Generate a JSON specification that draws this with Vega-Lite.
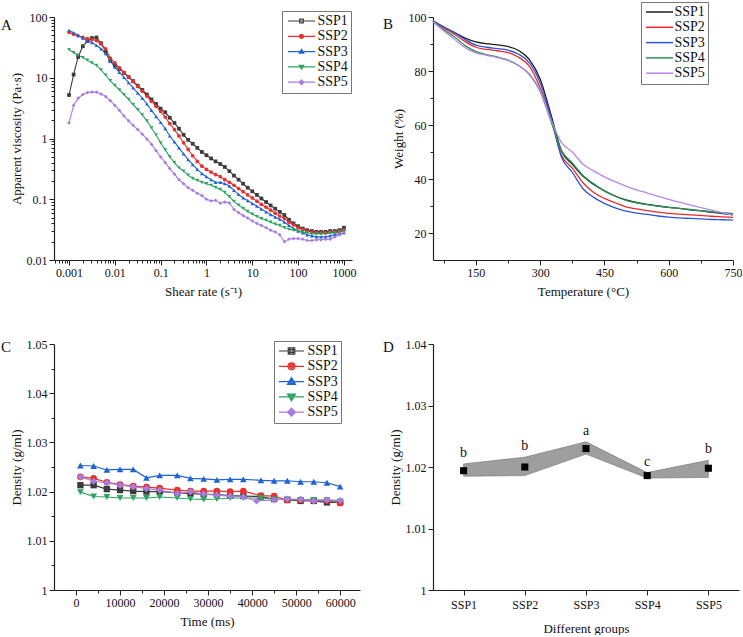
{
"$schema":"https://vega.github.io/schema/vega-lite/v6.json",
"background":"white",
"padding":{"left":1,"top":1,"right":0,"bottom":0},
"columns":2,
"spacing":{"row":84,"column":73},
"bounds":"flush",
"resolve":{"scale":{"color":"independent","shape":"independent"},"legend":{"color":"independent","shape":"independent"}},
"config":{
 "font":"Liberation Serif",
 "view":{"stroke":null},
 "axis":{"domainColor":"#222","domainWidth":1.2,"tickColor":"#222","tickWidth":1,"labelColor":"#111","labelFontSize":12,"titleFontSize":13,"titleFontWeight":"normal","titleColor":"#111","grid":false,"labelFont":"Liberation Serif","titleFont":"Liberation Serif","labelPadding":2},
 "legend":{"labelFont":"Liberation Serif","labelColor":"#111"},
 "title":{"font":"Liberation Serif","fontSize":15,"fontWeight":"normal","anchor":"start","frame":"group","color":"#111","offset":0}
},
"datasets":{
"visc":[
{"s":"SSP1","x":0.001,"y":5.2},{"s":"SSP1","x":0.00126,"y":11.3},{"s":"SSP1","x":0.00158,"y":22},{"s":"SSP1","x":0.002,"y":33},{"s":"SSP1","x":0.00251,"y":40},{"s":"SSP1","x":0.00316,"y":45},{"s":"SSP1","x":0.00398,"y":46},{"s":"SSP1","x":0.00501,"y":37},{"s":"SSP1","x":0.00631,"y":27},{"s":"SSP1","x":0.00794,"y":19},
{"s":"SSP1","x":0.01,"y":16},{"s":"SSP1","x":0.0126,"y":14},{"s":"SSP1","x":0.0158,"y":12},{"s":"SSP1","x":0.02,"y":10.3},{"s":"SSP1","x":0.0251,"y":8.8},{"s":"SSP1","x":0.0316,"y":7.4},{"s":"SSP1","x":0.0398,"y":6.3},{"s":"SSP1","x":0.0501,"y":5.3},{"s":"SSP1","x":0.0631,"y":4.4},{"s":"SSP1","x":0.0794,"y":3.7},
{"s":"SSP1","x":0.1,"y":3.1},{"s":"SSP1","x":0.126,"y":2.7},{"s":"SSP1","x":0.158,"y":2.2},{"s":"SSP1","x":0.2,"y":1.8},{"s":"SSP1","x":0.251,"y":1.45},{"s":"SSP1","x":0.316,"y":1.15},{"s":"SSP1","x":0.398,"y":0.95},{"s":"SSP1","x":0.501,"y":0.82},{"s":"SSP1","x":0.631,"y":0.7},{"s":"SSP1","x":0.794,"y":0.6},
{"s":"SSP1","x":1,"y":0.53},{"s":"SSP1","x":1.26,"y":0.47},{"s":"SSP1","x":1.58,"y":0.42},{"s":"SSP1","x":2,"y":0.38},{"s":"SSP1","x":2.51,"y":0.34},{"s":"SSP1","x":3.16,"y":0.29},{"s":"SSP1","x":3.98,"y":0.245},{"s":"SSP1","x":5.01,"y":0.21},{"s":"SSP1","x":6.31,"y":0.18},{"s":"SSP1","x":7.94,"y":0.155},
{"s":"SSP1","x":10,"y":0.135},{"s":"SSP1","x":12.6,"y":0.118},{"s":"SSP1","x":15.8,"y":0.103},{"s":"SSP1","x":20,"y":0.09},{"s":"SSP1","x":25.1,"y":0.079},{"s":"SSP1","x":31.6,"y":0.07},{"s":"SSP1","x":39.8,"y":0.062},{"s":"SSP1","x":50.1,"y":0.055},{"s":"SSP1","x":63.1,"y":0.046},{"s":"SSP1","x":79.4,"y":0.04},
{"s":"SSP1","x":100,"y":0.036},{"s":"SSP1","x":126,"y":0.033},{"s":"SSP1","x":158,"y":0.031},{"s":"SSP1","x":200,"y":0.03},{"s":"SSP1","x":251,"y":0.029},{"s":"SSP1","x":316,"y":0.029},{"s":"SSP1","x":398,"y":0.029},{"s":"SSP1","x":501,"y":0.03},{"s":"SSP1","x":631,"y":0.03},{"s":"SSP1","x":794,"y":0.031},{"s":"SSP1","x":1000,"y":0.034},
{"s":"SSP2","x":0.001,"y":56},{"s":"SSP2","x":0.00126,"y":52},{"s":"SSP2","x":0.00158,"y":49},{"s":"SSP2","x":0.002,"y":46},{"s":"SSP2","x":0.00251,"y":44},{"s":"SSP2","x":0.00316,"y":42.5},{"s":"SSP2","x":0.00398,"y":41},{"s":"SSP2","x":0.00501,"y":36},{"s":"SSP2","x":0.00631,"y":30},{"s":"SSP2","x":0.00794,"y":21},
{"s":"SSP2","x":0.01,"y":17.5},{"s":"SSP2","x":0.0126,"y":14.5},{"s":"SSP2","x":0.0158,"y":12.3},{"s":"SSP2","x":0.02,"y":10.3},{"s":"SSP2","x":0.0251,"y":8.6},{"s":"SSP2","x":0.0316,"y":7.2},{"s":"SSP2","x":0.0398,"y":6},{"s":"SSP2","x":0.0501,"y":5},{"s":"SSP2","x":0.0631,"y":4.1},{"s":"SSP2","x":0.0794,"y":3.4},
{"s":"SSP2","x":0.1,"y":2.8},{"s":"SSP2","x":0.126,"y":2.25},{"s":"SSP2","x":0.158,"y":1.75},{"s":"SSP2","x":0.2,"y":1.4},{"s":"SSP2","x":0.251,"y":1.1},{"s":"SSP2","x":0.316,"y":0.85},{"s":"SSP2","x":0.398,"y":0.66},{"s":"SSP2","x":0.501,"y":0.52},{"s":"SSP2","x":0.631,"y":0.42},{"s":"SSP2","x":0.794,"y":0.35},
{"s":"SSP2","x":1,"y":0.31},{"s":"SSP2","x":1.26,"y":0.28},{"s":"SSP2","x":1.58,"y":0.255},{"s":"SSP2","x":2,"y":0.235},{"s":"SSP2","x":2.51,"y":0.21},{"s":"SSP2","x":3.16,"y":0.19},{"s":"SSP2","x":3.98,"y":0.17},{"s":"SSP2","x":5.01,"y":0.15},{"s":"SSP2","x":6.31,"y":0.133},{"s":"SSP2","x":7.94,"y":0.118},
{"s":"SSP2","x":10,"y":0.105},{"s":"SSP2","x":12.6,"y":0.093},{"s":"SSP2","x":15.8,"y":0.082},{"s":"SSP2","x":20,"y":0.074},{"s":"SSP2","x":25.1,"y":0.066},{"s":"SSP2","x":31.6,"y":0.059},{"s":"SSP2","x":39.8,"y":0.053},{"s":"SSP2","x":50.1,"y":0.048},{"s":"SSP2","x":63.1,"y":0.042},{"s":"SSP2","x":79.4,"y":0.038},
{"s":"SSP2","x":100,"y":0.034},{"s":"SSP2","x":126,"y":0.032},{"s":"SSP2","x":158,"y":0.03},{"s":"SSP2","x":200,"y":0.029},{"s":"SSP2","x":251,"y":0.028},{"s":"SSP2","x":316,"y":0.028},{"s":"SSP2","x":398,"y":0.028},{"s":"SSP2","x":501,"y":0.029},{"s":"SSP2","x":631,"y":0.029},{"s":"SSP2","x":794,"y":0.03},{"s":"SSP2","x":1000,"y":0.031},
{"s":"SSP3","x":0.001,"y":60},{"s":"SSP3","x":0.00126,"y":55},{"s":"SSP3","x":0.00158,"y":50},{"s":"SSP3","x":0.002,"y":45},{"s":"SSP3","x":0.00251,"y":41},{"s":"SSP3","x":0.00316,"y":38},{"s":"SSP3","x":0.00398,"y":34},{"s":"SSP3","x":0.00501,"y":30},{"s":"SSP3","x":0.00631,"y":25},{"s":"SSP3","x":0.00794,"y":19},
{"s":"SSP3","x":0.01,"y":15},{"s":"SSP3","x":0.0126,"y":12.3},{"s":"SSP3","x":0.0158,"y":10.1},{"s":"SSP3","x":0.02,"y":8.3},{"s":"SSP3","x":0.0251,"y":6.8},{"s":"SSP3","x":0.0316,"y":5.6},{"s":"SSP3","x":0.0398,"y":4.6},{"s":"SSP3","x":0.0501,"y":3.7},{"s":"SSP3","x":0.0631,"y":2.9},{"s":"SSP3","x":0.0794,"y":2.3},
{"s":"SSP3","x":0.1,"y":1.85},{"s":"SSP3","x":0.126,"y":1.45},{"s":"SSP3","x":0.158,"y":1.1},{"s":"SSP3","x":0.2,"y":0.88},{"s":"SSP3","x":0.251,"y":0.7},{"s":"SSP3","x":0.316,"y":0.56},{"s":"SSP3","x":0.398,"y":0.45},{"s":"SSP3","x":0.501,"y":0.37},{"s":"SSP3","x":0.631,"y":0.31},{"s":"SSP3","x":0.794,"y":0.265},
{"s":"SSP3","x":1,"y":0.235},{"s":"SSP3","x":1.26,"y":0.21},{"s":"SSP3","x":1.58,"y":0.19},{"s":"SSP3","x":2,"y":0.19},{"s":"SSP3","x":2.51,"y":0.18},{"s":"SSP3","x":3.16,"y":0.165},{"s":"SSP3","x":3.98,"y":0.14},{"s":"SSP3","x":5.01,"y":0.12},{"s":"SSP3","x":6.31,"y":0.105},{"s":"SSP3","x":7.94,"y":0.095},
{"s":"SSP3","x":10,"y":0.085},{"s":"SSP3","x":12.6,"y":0.077},{"s":"SSP3","x":15.8,"y":0.069},{"s":"SSP3","x":20,"y":0.062},{"s":"SSP3","x":25.1,"y":0.056},{"s":"SSP3","x":31.6,"y":0.051},{"s":"SSP3","x":39.8,"y":0.047},{"s":"SSP3","x":50.1,"y":0.042},{"s":"SSP3","x":63.1,"y":0.037},{"s":"SSP3","x":79.4,"y":0.033},
{"s":"SSP3","x":100,"y":0.03},{"s":"SSP3","x":126,"y":0.028},{"s":"SSP3","x":158,"y":0.026},{"s":"SSP3","x":200,"y":0.025},{"s":"SSP3","x":251,"y":0.024},{"s":"SSP3","x":316,"y":0.024},{"s":"SSP3","x":398,"y":0.024},{"s":"SSP3","x":501,"y":0.025},{"s":"SSP3","x":631,"y":0.026},{"s":"SSP3","x":794,"y":0.027},{"s":"SSP3","x":1000,"y":0.028},
{"s":"SSP4","x":0.001,"y":29},{"s":"SSP4","x":0.00126,"y":26},{"s":"SSP4","x":0.00158,"y":23.5},{"s":"SSP4","x":0.002,"y":21.5},{"s":"SSP4","x":0.00251,"y":19.5},{"s":"SSP4","x":0.00316,"y":17.5},{"s":"SSP4","x":0.00398,"y":16},{"s":"SSP4","x":0.00501,"y":13.5},{"s":"SSP4","x":0.00631,"y":11},{"s":"SSP4","x":0.00794,"y":9},
{"s":"SSP4","x":0.01,"y":7.5},{"s":"SSP4","x":0.0126,"y":6.3},{"s":"SSP4","x":0.0158,"y":5.3},{"s":"SSP4","x":0.02,"y":4.4},{"s":"SSP4","x":0.0251,"y":3.6},{"s":"SSP4","x":0.0316,"y":3},{"s":"SSP4","x":0.0398,"y":2.45},{"s":"SSP4","x":0.0501,"y":1.95},{"s":"SSP4","x":0.0631,"y":1.5},{"s":"SSP4","x":0.0794,"y":1.15},
{"s":"SSP4","x":0.1,"y":0.85},{"s":"SSP4","x":0.126,"y":0.65},{"s":"SSP4","x":0.158,"y":0.5},{"s":"SSP4","x":0.2,"y":0.4},{"s":"SSP4","x":0.251,"y":0.33},{"s":"SSP4","x":0.316,"y":0.29},{"s":"SSP4","x":0.398,"y":0.25},{"s":"SSP4","x":0.501,"y":0.22},{"s":"SSP4","x":0.631,"y":0.205},{"s":"SSP4","x":0.794,"y":0.19},
{"s":"SSP4","x":1,"y":0.18},{"s":"SSP4","x":1.26,"y":0.17},{"s":"SSP4","x":1.58,"y":0.157},{"s":"SSP4","x":2,"y":0.145},{"s":"SSP4","x":2.51,"y":0.13},{"s":"SSP4","x":3.16,"y":0.11},{"s":"SSP4","x":3.98,"y":0.092},{"s":"SSP4","x":5.01,"y":0.08},{"s":"SSP4","x":6.31,"y":0.071},{"s":"SSP4","x":7.94,"y":0.063},
{"s":"SSP4","x":10,"y":0.057},{"s":"SSP4","x":12.6,"y":0.052},{"s":"SSP4","x":15.8,"y":0.048},{"s":"SSP4","x":20,"y":0.045},{"s":"SSP4","x":25.1,"y":0.042},{"s":"SSP4","x":31.6,"y":0.039},{"s":"SSP4","x":39.8,"y":0.037},{"s":"SSP4","x":50.1,"y":0.034},{"s":"SSP4","x":63.1,"y":0.032},{"s":"SSP4","x":79.4,"y":0.031},
{"s":"SSP4","x":100,"y":0.03},{"s":"SSP4","x":126,"y":0.029},{"s":"SSP4","x":158,"y":0.028},{"s":"SSP4","x":200,"y":0.027},{"s":"SSP4","x":251,"y":0.027},{"s":"SSP4","x":316,"y":0.027},{"s":"SSP4","x":398,"y":0.027},{"s":"SSP4","x":501,"y":0.028},{"s":"SSP4","x":631,"y":0.028},{"s":"SSP4","x":794,"y":0.029},{"s":"SSP4","x":1000,"y":0.03},
{"s":"SSP5","x":0.001,"y":1.8},{"s":"SSP5","x":0.00126,"y":3.5},{"s":"SSP5","x":0.00158,"y":4.6},{"s":"SSP5","x":0.002,"y":5.3},{"s":"SSP5","x":0.00251,"y":5.7},{"s":"SSP5","x":0.00316,"y":5.8},{"s":"SSP5","x":0.00398,"y":5.8},{"s":"SSP5","x":0.00501,"y":5.4},{"s":"SSP5","x":0.00631,"y":4.9},{"s":"SSP5","x":0.00794,"y":4.2},
{"s":"SSP5","x":0.01,"y":3.5},{"s":"SSP5","x":0.0126,"y":2.9},{"s":"SSP5","x":0.0158,"y":2.35},{"s":"SSP5","x":0.02,"y":1.95},{"s":"SSP5","x":0.0251,"y":1.65},{"s":"SSP5","x":0.0316,"y":1.4},{"s":"SSP5","x":0.0398,"y":1.18},{"s":"SSP5","x":0.0501,"y":0.98},{"s":"SSP5","x":0.0631,"y":0.8},{"s":"SSP5","x":0.0794,"y":0.63},
{"s":"SSP5","x":0.1,"y":0.5},{"s":"SSP5","x":0.126,"y":0.4},{"s":"SSP5","x":0.158,"y":0.32},{"s":"SSP5","x":0.2,"y":0.26},{"s":"SSP5","x":0.251,"y":0.21},{"s":"SSP5","x":0.316,"y":0.18},{"s":"SSP5","x":0.398,"y":0.155},{"s":"SSP5","x":0.501,"y":0.14},{"s":"SSP5","x":0.631,"y":0.125},{"s":"SSP5","x":0.794,"y":0.115},
{"s":"SSP5","x":1,"y":0.1},{"s":"SSP5","x":1.26,"y":0.094},{"s":"SSP5","x":1.58,"y":0.096},{"s":"SSP5","x":2,"y":0.086},{"s":"SSP5","x":2.51,"y":0.09},{"s":"SSP5","x":3.16,"y":0.087},{"s":"SSP5","x":3.98,"y":0.068},{"s":"SSP5","x":5.01,"y":0.06},{"s":"SSP5","x":6.31,"y":0.054},{"s":"SSP5","x":7.94,"y":0.049},
{"s":"SSP5","x":10,"y":0.044},{"s":"SSP5","x":12.6,"y":0.04},{"s":"SSP5","x":15.8,"y":0.037},{"s":"SSP5","x":20,"y":0.034},{"s":"SSP5","x":25.1,"y":0.031},{"s":"SSP5","x":31.6,"y":0.029},{"s":"SSP5","x":39.8,"y":0.026},{"s":"SSP5","x":50.1,"y":0.02},{"s":"SSP5","x":63.1,"y":0.022},{"s":"SSP5","x":79.4,"y":0.0225},
{"s":"SSP5","x":100,"y":0.0225},{"s":"SSP5","x":126,"y":0.022},{"s":"SSP5","x":158,"y":0.021},{"s":"SSP5","x":200,"y":0.021},{"s":"SSP5","x":251,"y":0.0215},{"s":"SSP5","x":316,"y":0.0215},{"s":"SSP5","x":398,"y":0.022},{"s":"SSP5","x":501,"y":0.022},{"s":"SSP5","x":631,"y":0.024},{"s":"SSP5","x":794,"y":0.026},{"s":"SSP5","x":1000,"y":0.028}
],
"tga":[
{"s":"SSP1","t":50,"w":98.5},{"s":"SSP1","t":75,"w":96.3},{"s":"SSP1","t":100,"w":94.2},{"s":"SSP1","t":125,"w":92.2},{"s":"SSP1","t":150,"w":90.8},{"s":"SSP1","t":175,"w":90.1},{"s":"SSP1","t":200,"w":89.7},{"s":"SSP1","t":225,"w":89.1},{"s":"SSP1","t":250,"w":87.6},{"s":"SSP1","t":275,"w":84.2},{"s":"SSP1","t":300,"w":77},{"s":"SSP1","t":325,"w":64},{"s":"SSP1","t":350,"w":50.3},{"s":"SSP1","t":375,"w":45.5},{"s":"SSP1","t":400,"w":41},{"s":"SSP1","t":425,"w":38},{"s":"SSP1","t":450,"w":35.6},{"s":"SSP1","t":475,"w":33.7},{"s":"SSP1","t":500,"w":32.3},{"s":"SSP1","t":525,"w":31.3},{"s":"SSP1","t":550,"w":30.6},{"s":"SSP1","t":575,"w":30},{"s":"SSP1","t":600,"w":29.5},{"s":"SSP1","t":625,"w":29.1},{"s":"SSP1","t":650,"w":28.6},{"s":"SSP1","t":675,"w":28.2},{"s":"SSP1","t":700,"w":27.7},{"s":"SSP1","t":725,"w":27.2},{"s":"SSP1","t":750,"w":26.8},
{"s":"SSP2","t":50,"w":98.4},{"s":"SSP2","t":75,"w":95.9},{"s":"SSP2","t":100,"w":93.6},{"s":"SSP2","t":125,"w":90.9},{"s":"SSP2","t":150,"w":88.8},{"s":"SSP2","t":175,"w":88},{"s":"SSP2","t":200,"w":87.5},{"s":"SSP2","t":225,"w":86.8},{"s":"SSP2","t":250,"w":85.1},{"s":"SSP2","t":275,"w":81.7},{"s":"SSP2","t":300,"w":73.8},{"s":"SSP2","t":325,"w":62.5},{"s":"SSP2","t":350,"w":48.8},{"s":"SSP2","t":375,"w":44},{"s":"SSP2","t":400,"w":38.6},{"s":"SSP2","t":425,"w":35},{"s":"SSP2","t":450,"w":32.8},{"s":"SSP2","t":475,"w":31.2},{"s":"SSP2","t":500,"w":29.7},{"s":"SSP2","t":525,"w":28.9},{"s":"SSP2","t":550,"w":28.3},{"s":"SSP2","t":575,"w":27.7},{"s":"SSP2","t":600,"w":27.3},{"s":"SSP2","t":625,"w":27},{"s":"SSP2","t":650,"w":26.7},{"s":"SSP2","t":675,"w":26.5},{"s":"SSP2","t":700,"w":26.2},{"s":"SSP2","t":725,"w":26},{"s":"SSP2","t":750,"w":25.8},
{"s":"SSP3","t":50,"w":98.6},{"s":"SSP3","t":75,"w":96.3},{"s":"SSP3","t":100,"w":94.2},{"s":"SSP3","t":125,"w":91.6},{"s":"SSP3","t":150,"w":89.6},{"s":"SSP3","t":175,"w":88.8},{"s":"SSP3","t":200,"w":88.3},{"s":"SSP3","t":225,"w":87.7},{"s":"SSP3","t":250,"w":86.2},{"s":"SSP3","t":275,"w":83},{"s":"SSP3","t":300,"w":75.6},{"s":"SSP3","t":325,"w":63},{"s":"SSP3","t":350,"w":48},{"s":"SSP3","t":375,"w":42.5},{"s":"SSP3","t":400,"w":36.4},{"s":"SSP3","t":425,"w":33.2},{"s":"SSP3","t":450,"w":31},{"s":"SSP3","t":475,"w":29.3},{"s":"SSP3","t":500,"w":28.1},{"s":"SSP3","t":525,"w":27.4},{"s":"SSP3","t":550,"w":26.9},{"s":"SSP3","t":575,"w":26.3},{"s":"SSP3","t":600,"w":25.9},{"s":"SSP3","t":625,"w":25.6},{"s":"SSP3","t":650,"w":25.4},{"s":"SSP3","t":675,"w":25.2},{"s":"SSP3","t":700,"w":25},{"s":"SSP3","t":725,"w":24.9},{"s":"SSP3","t":750,"w":24.8},
{"s":"SSP4","t":50,"w":98.3},{"s":"SSP4","t":75,"w":95.3},{"s":"SSP4","t":100,"w":92.7},{"s":"SSP4","t":125,"w":89.4},{"s":"SSP4","t":150,"w":87.2},{"s":"SSP4","t":175,"w":86.1},{"s":"SSP4","t":200,"w":85.2},{"s":"SSP4","t":225,"w":84},{"s":"SSP4","t":250,"w":82},{"s":"SSP4","t":275,"w":78.7},{"s":"SSP4","t":300,"w":72.5},{"s":"SSP4","t":325,"w":61.5},{"s":"SSP4","t":350,"w":50.5},{"s":"SSP4","t":375,"w":46},{"s":"SSP4","t":400,"w":41.3},{"s":"SSP4","t":425,"w":38.2},{"s":"SSP4","t":450,"w":35.6},{"s":"SSP4","t":475,"w":33.6},{"s":"SSP4","t":500,"w":32.1},{"s":"SSP4","t":525,"w":31.2},{"s":"SSP4","t":550,"w":30.5},{"s":"SSP4","t":575,"w":30},{"s":"SSP4","t":600,"w":29.5},{"s":"SSP4","t":625,"w":29.1},{"s":"SSP4","t":650,"w":28.7},{"s":"SSP4","t":675,"w":28.3},{"s":"SSP4","t":700,"w":27.9},{"s":"SSP4","t":725,"w":27.5},{"s":"SSP4","t":750,"w":27.2},
{"s":"SSP5","t":50,"w":98.2},{"s":"SSP5","t":75,"w":94.8},{"s":"SSP5","t":100,"w":91.8},{"s":"SSP5","t":125,"w":88.6},{"s":"SSP5","t":150,"w":86.7},{"s":"SSP5","t":175,"w":85.8},{"s":"SSP5","t":200,"w":85},{"s":"SSP5","t":225,"w":83.9},{"s":"SSP5","t":250,"w":82},{"s":"SSP5","t":275,"w":78.9},{"s":"SSP5","t":300,"w":72.8},{"s":"SSP5","t":325,"w":62},{"s":"SSP5","t":350,"w":53.5},{"s":"SSP5","t":375,"w":50},{"s":"SSP5","t":400,"w":45.5},{"s":"SSP5","t":425,"w":43},{"s":"SSP5","t":450,"w":40.8},{"s":"SSP5","t":475,"w":39},{"s":"SSP5","t":500,"w":37.4},{"s":"SSP5","t":525,"w":36},{"s":"SSP5","t":550,"w":34.8},{"s":"SSP5","t":575,"w":33.6},{"s":"SSP5","t":600,"w":32.5},{"s":"SSP5","t":625,"w":31.4},{"s":"SSP5","t":650,"w":30.4},{"s":"SSP5","t":675,"w":29.4},{"s":"SSP5","t":700,"w":28.5},{"s":"SSP5","t":725,"w":27.5},{"s":"SSP5","t":750,"w":26.6}
],
"dens":[
{"s":"SSP1","t":1000,"d":1.0213},{"s":"SSP1","t":4000,"d":1.0213},{"s":"SSP1","t":7000,"d":1.0205},{"s":"SSP1","t":10000,"d":1.0203},{"s":"SSP1","t":13000,"d":1.0201},{"s":"SSP1","t":16000,"d":1.02},{"s":"SSP1","t":19000,"d":1.02},{"s":"SSP1","t":23000,"d":1.0198},{"s":"SSP1","t":26000,"d":1.0196},{"s":"SSP1","t":29000,"d":1.0195},{"s":"SSP1","t":32000,"d":1.0194},{"s":"SSP1","t":35000,"d":1.0192},{"s":"SSP1","t":38000,"d":1.0191},{"s":"SSP1","t":42000,"d":1.019},{"s":"SSP1","t":45000,"d":1.0185},{"s":"SSP1","t":48000,"d":1.0183},{"s":"SSP1","t":51000,"d":1.0181},{"s":"SSP1","t":54000,"d":1.0181},{"s":"SSP1","t":57000,"d":1.0178},{"s":"SSP1","t":60000,"d":1.0178},
{"s":"SSP2","t":1000,"d":1.023},{"s":"SSP2","t":4000,"d":1.0227},{"s":"SSP2","t":7000,"d":1.0219},{"s":"SSP2","t":10000,"d":1.0214},{"s":"SSP2","t":13000,"d":1.0211},{"s":"SSP2","t":16000,"d":1.0209},{"s":"SSP2","t":19000,"d":1.0207},{"s":"SSP2","t":23000,"d":1.0203},{"s":"SSP2","t":26000,"d":1.0201},{"s":"SSP2","t":29000,"d":1.0201},{"s":"SSP2","t":32000,"d":1.0201},{"s":"SSP2","t":35000,"d":1.02},{"s":"SSP2","t":38000,"d":1.0201},{"s":"SSP2","t":42000,"d":1.0192},{"s":"SSP2","t":45000,"d":1.0191},{"s":"SSP2","t":48000,"d":1.0183},{"s":"SSP2","t":51000,"d":1.0183},{"s":"SSP2","t":54000,"d":1.0182},{"s":"SSP2","t":57000,"d":1.0182},{"s":"SSP2","t":60000,"d":1.0177},
{"s":"SSP3","t":1000,"d":1.0253},{"s":"SSP3","t":4000,"d":1.0252},{"s":"SSP3","t":7000,"d":1.0244},{"s":"SSP3","t":10000,"d":1.0245},{"s":"SSP3","t":13000,"d":1.0245},{"s":"SSP3","t":16000,"d":1.0228},{"s":"SSP3","t":19000,"d":1.0233},{"s":"SSP3","t":23000,"d":1.0233},{"s":"SSP3","t":26000,"d":1.0227},{"s":"SSP3","t":29000,"d":1.0226},{"s":"SSP3","t":32000,"d":1.0224},{"s":"SSP3","t":35000,"d":1.0225},{"s":"SSP3","t":38000,"d":1.0225},{"s":"SSP3","t":42000,"d":1.0223},{"s":"SSP3","t":45000,"d":1.0222},{"s":"SSP3","t":48000,"d":1.0222},{"s":"SSP3","t":51000,"d":1.022},{"s":"SSP3","t":54000,"d":1.022},{"s":"SSP3","t":57000,"d":1.0218},{"s":"SSP3","t":60000,"d":1.021},
{"s":"SSP4","t":1000,"d":1.0199},{"s":"SSP4","t":4000,"d":1.019},{"s":"SSP4","t":7000,"d":1.0189},{"s":"SSP4","t":10000,"d":1.0187},{"s":"SSP4","t":13000,"d":1.0187},{"s":"SSP4","t":16000,"d":1.0187},{"s":"SSP4","t":19000,"d":1.0189},{"s":"SSP4","t":23000,"d":1.0187},{"s":"SSP4","t":26000,"d":1.0185},{"s":"SSP4","t":29000,"d":1.0184},{"s":"SSP4","t":32000,"d":1.0185},{"s":"SSP4","t":35000,"d":1.0187},{"s":"SSP4","t":38000,"d":1.0187},{"s":"SSP4","t":42000,"d":1.0187},{"s":"SSP4","t":45000,"d":1.0184},{"s":"SSP4","t":48000,"d":1.0184},{"s":"SSP4","t":51000,"d":1.0183},{"s":"SSP4","t":54000,"d":1.0183},{"s":"SSP4","t":57000,"d":1.0182},{"s":"SSP4","t":60000,"d":1.018},
{"s":"SSP5","t":1000,"d":1.023},{"s":"SSP5","t":4000,"d":1.0221},{"s":"SSP5","t":7000,"d":1.0218},{"s":"SSP5","t":10000,"d":1.0213},{"s":"SSP5","t":13000,"d":1.021},{"s":"SSP5","t":16000,"d":1.0206},{"s":"SSP5","t":19000,"d":1.0203},{"s":"SSP5","t":23000,"d":1.0196},{"s":"SSP5","t":26000,"d":1.02},{"s":"SSP5","t":29000,"d":1.0195},{"s":"SSP5","t":32000,"d":1.0193},{"s":"SSP5","t":35000,"d":1.0191},{"s":"SSP5","t":38000,"d":1.0189},{"s":"SSP5","t":41000,"d":1.0181},{"s":"SSP5","t":45000,"d":1.0183},{"s":"SSP5","t":48000,"d":1.0185},{"s":"SSP5","t":51000,"d":1.0184},{"s":"SSP5","t":54000,"d":1.0181},{"s":"SSP5","t":57000,"d":1.0183},{"s":"SSP5","t":60000,"d":1.0182}
],
"grp":[
{"g":"SSP1","m":1.0194,"lo":1.0185,"hi":1.0205,"lab":"b"},
{"g":"SSP2","m":1.02,"lo":1.0186,"hi":1.0216,"lab":"b"},
{"g":"SSP3","m":1.023,"lo":1.0221,"hi":1.0241,"lab":"a"},
{"g":"SSP4","m":1.0186,"lo":1.0182,"hi":1.0191,"lab":"c"},
{"g":"SSP5","m":1.0198,"lo":1.0183,"hi":1.0211,"lab":"b"}
]
},
"concat":[
{
 "width":298,"height":243,
 "title":{"text":"A","dx":-53,"dy":26},
 "data":{"name":"visc"},
 "encoding":{
  "x":{"field":"x","type":"quantitative","scale":{"type":"log","domain":[0.00047,1500],"nice":false},
   "axis":{"title":"Shear rate (s⁻¹)","tickCount":60,"labelOverlap":false,"labelFlush":false,"titlePadding":7,
    "labelExpr":"abs(log(datum.value)/LN10-round(log(datum.value)/LN10))<0.001 ? format(datum.value,'~g') : ''",
    "tickSize":{"condition":{"test":"abs(log(datum.value)/LN10-round(log(datum.value)/LN10))<0.001","value":5},"value":3}}},
  "y":{"field":"y","type":"quantitative","scale":{"type":"log","domain":[0.01,100],"nice":false},
   "axis":{"title":"Apparent viscosity (Pa·s)","tickCount":40,"labelOverlap":false,"labelFlush":false,"titlePadding":3,
    "labelExpr":"abs(log(datum.value)/LN10-round(log(datum.value)/LN10))<0.001 ? format(datum.value,'~g') : ''",
    "tickSize":{"condition":{"test":"abs(log(datum.value)/LN10-round(log(datum.value)/LN10))<0.001","value":5},"value":3}}}
 },
 "layer":[
  {"transform":[{"filter":"datum.s==='SSP1'"}],"mark":{"type":"line","strokeWidth":1.1,"color":"#3c3c3c"}},
  {"transform":[{"filter":"datum.s==='SSP2'"}],"mark":{"type":"line","strokeWidth":1.1,"color":"#e8312e"}},
  {"transform":[{"filter":"datum.s==='SSP3'"}],"mark":{"type":"line","strokeWidth":1.1,"color":"#1f62d4"}},
  {"transform":[{"filter":"datum.s==='SSP4'"}],"mark":{"type":"line","strokeWidth":1.1,"color":"#2da45f"}},
  {"transform":[{"filter":"datum.s==='SSP5'"}],"mark":{"type":"line","strokeWidth":1.1,"color":"#a77de0"}},
  {"transform":[{"filter":"datum.s==='SSP1'"}],"mark":{"type":"point","shape":"square","filled":true,"size":14,"color":"#3c3c3c","opacity":1}},
  {"transform":[{"filter":"datum.s==='SSP2'"}],"mark":{"type":"point","shape":"circle","filled":true,"size":14,"color":"#e8312e","opacity":1}},
  {"transform":[{"filter":"datum.s==='SSP3'"}],"mark":{"type":"point","shape":"triangle-up","filled":true,"size":14,"color":"#1f62d4","opacity":1}},
  {"transform":[{"filter":"datum.s==='SSP4'"}],"mark":{"type":"point","shape":"triangle-down","filled":true,"size":14,"color":"#2da45f","opacity":1}},
  {"transform":[{"filter":"datum.s==='SSP5'"}],"mark":{"type":"point","shape":"diamond","filled":true,"size":14,"color":"#a77de0","opacity":1}},
  {"transform":[{"filter":"datum.s==='none'"}],
   "mark":{"type":"point","filled":false,"strokeWidth":1.2,"opacity":1},
   "encoding":{
    "color":{"field":"s","type":"nominal","scale":{"domain":["SSP1","SSP2","SSP3","SSP4","SSP5"],"range":["#3c3c3c","#e8312e","#1f62d4","#2da45f","#a77de0"]},
      "legend":{"title":null,"orient":"none","legendX":228,"legendY":-6,"symbolSize":100,"symbolStrokeWidth":1.2,"symbolOffset":9.5,"labelOffset":9,"labelFontSize":14,"strokeColor":"#777","fillColor":"white","padding":3,"rowPadding":1.3,"symbolOpacity":1}},
    "shape":{"field":"s","type":"nominal","scale":{"domain":["SSP1","SSP2","SSP3","SSP4","SSP5"],"range":[
      "M-2.7,0H2.7M-0.36,-0.36H0.36V0.36H-0.36Z",
      "M-2.7,0H2.7M0.4,0A0.4,0.4,0,1,1,-0.4,0A0.4,0.4,0,1,1,0.4,0ZM0.15,0A0.15,0.15,0,1,1,-0.15,0A0.15,0.15,0,1,1,0.15,0Z",
      "M-2.7,0H2.7M0,-0.45L0.45,0.32H-0.45ZM0,-0.1L0.15,0.15H-0.15Z",
      "M-2.7,0H2.7M0,0.45L0.45,-0.32H-0.45ZM0,0.1L0.15,-0.15H-0.15Z",
      "M-2.7,0H2.7M0,-0.48L0.48,0L0,0.48L-0.48,0ZM0,-0.2L0.2,0L0,0.2L-0.2,0Z"]},
      "legend":{"title":null,"orient":"none","legendX":228,"legendY":-6,"symbolSize":100,"symbolStrokeWidth":1.2,"symbolOffset":9.5,"labelOffset":9,"labelFontSize":14,"strokeColor":"#777","fillColor":"white","padding":3,"rowPadding":1.3,"symbolOpacity":1}}
   }}
 ]
},
{
 "width":300,"height":243,
 "title":{"text":"B","dx":-50,"dy":34},
 "data":{"name":"tga"},
 "mark":{"type":"line","strokeWidth":1.3,"interpolate":"monotone"},
 "encoding":{
  "x":{"field":"t","type":"quantitative","scale":{"domain":[50,750],"nice":false,"zero":false},
   "axis":{"title":"Temperature (°C)","values":[75,150,225,300,375,450,525,600,675,750],"labelOverlap":false,"labelFlush":false,"titlePadding":7,
    "labelExpr":"datum.value % 150 === 0 ? datum.label : ''",
    "tickSize":{"condition":{"test":"datum.value % 150 === 0","value":5},"value":3}}},
  "y":{"field":"w","type":"quantitative","scale":{"domain":[10,100],"nice":false,"zero":false},
   "axis":{"title":"Weight (%)","values":[20,30,40,50,60,70,80,90,100],"labelOverlap":false,"labelFlush":false,"titlePadding":3,
    "labelExpr":"datum.value % 20 === 0 ? datum.label : ''",
    "tickSize":{"condition":{"test":"datum.value % 20 === 0","value":5},"value":3}}},
  "color":{"field":"s","type":"nominal","scale":{"domain":["SSP1","SSP2","SSP3","SSP4","SSP5"],"range":["#1e1e1e","#ea2a2a","#2c56d8","#2a9158","#b58ae2"]},
   "legend":{"title":null,"orient":"none","legendX":208,"legendY":-15,"symbolType":"M-2.7,0H2.7","symbolSize":100,"symbolStrokeWidth":1.5,"symbolOffset":8.5,"labelOffset":8,"labelFontSize":14,"strokeColor":"#777","fillColor":"white","padding":3,"rowPadding":1.3}}
 }
},
{
 "width":306,"height":246,
 "title":{"text":"C","dx":-53,"dy":21},
 "data":{"name":"dens"},
 "encoding":{
  "x":{"field":"t","type":"quantitative","scale":{"domain":[-5000,64500],"nice":false,"zero":false},
   "axis":{"title":"Time (ms)","values":[0,5000,10000,15000,20000,25000,30000,35000,40000,45000,50000,55000,60000],"labelOverlap":false,"labelFlush":false,"titlePadding":7,
    "labelExpr":"datum.value % 10000 === 0 ? format(datum.value,'d') : ''",
    "tickSize":{"condition":{"test":"datum.value % 10000 === 0","value":5},"value":3}}},
  "y":{"field":"d","type":"quantitative","scale":{"domain":[1,1.05],"nice":false,"zero":false},
   "axis":{"title":"Density (g/ml)","values":[1,1.005,1.01,1.015,1.02,1.025,1.03,1.035,1.04,1.045,1.05],"labelOverlap":false,"labelFlush":false,"titlePadding":3,
    "labelExpr":"abs(datum.value*100-round(datum.value*100))<0.001 ? format(datum.value,'~g') : ''",
    "tickSize":{"condition":{"test":"abs(datum.value*100-round(datum.value*100))<0.001","value":5},"value":3}}}
 },
 "layer":[
  {"transform":[{"filter":"datum.s==='SSP1'"}],"mark":{"type":"line","strokeWidth":1.2,"color":"#3c3c3c"}},
  {"transform":[{"filter":"datum.s==='SSP1'"}],"mark":{"type":"point","shape":"square","filled":true,"size":40,"color":"#3c3c3c","opacity":1}},
  {"transform":[{"filter":"datum.s==='SSP2'"}],"mark":{"type":"line","strokeWidth":1.2,"color":"#e8312e"}},
  {"transform":[{"filter":"datum.s==='SSP2'"}],"mark":{"type":"point","shape":"circle","filled":true,"size":45,"color":"#e8312e","opacity":1}},
  {"transform":[{"filter":"datum.s==='SSP3'"}],"mark":{"type":"line","strokeWidth":1.2,"color":"#1f62d4"}},
  {"transform":[{"filter":"datum.s==='SSP3'"}],"mark":{"type":"point","shape":"triangle-up","filled":true,"size":45,"color":"#1f62d4","opacity":1}},
  {"transform":[{"filter":"datum.s==='SSP4'"}],"mark":{"type":"line","strokeWidth":1.2,"color":"#2da45f"}},
  {"transform":[{"filter":"datum.s==='SSP4'"}],"mark":{"type":"point","shape":"triangle-down","filled":true,"size":45,"color":"#2da45f","opacity":1}},
  {"transform":[{"filter":"datum.s==='SSP5'"}],"mark":{"type":"line","strokeWidth":1.2,"color":"#a77de0"}},
  {"transform":[{"filter":"datum.s==='SSP5'"}],"mark":{"type":"point","shape":"diamond","filled":true,"size":50,"color":"#a77de0","opacity":1}},
  {"transform":[{"filter":"datum.s==='none'"}],
   "mark":{"type":"point","filled":false,"strokeWidth":1.2,"opacity":1},
   "encoding":{
    "color":{"field":"s","type":"nominal","scale":{"domain":["SSP1","SSP2","SSP3","SSP4","SSP5"],"range":["#3c3c3c","#e8312e","#1f62d4","#2da45f","#a77de0"]},
      "legend":{"title":null,"orient":"none","legendX":220,"legendY":-3,"symbolSize":100,"symbolStrokeWidth":1.2,"symbolOffset":7.5,"labelOffset":9,"labelFontSize":14,"strokeColor":"#777","fillColor":"white","padding":3,"rowPadding":1.3,"symbolOpacity":1}},
    "shape":{"field":"s","type":"nominal","scale":{"domain":["SSP1","SSP2","SSP3","SSP4","SSP5"],"range":[
      "M-2.5,0H2.5M-0.65,-0.65H0.65V0.65H-0.65ZM-0.65,-0.33H0.65M-0.65,0.33H0.65M-0.33,-0.65V0.65M0.33,-0.65V0.65",
      "M-2.5,0H2.5M0.7,0A0.7,0.7,0,1,1,-0.7,0A0.7,0.7,0,1,1,0.7,0ZM0.42,0A0.42,0.42,0,1,1,-0.42,0A0.42,0.42,0,1,1,0.42,0ZM0.15,0A0.15,0.15,0,1,1,-0.15,0A0.15,0.15,0,1,1,0.15,0Z",
      "M-2.5,0H2.5M0,-0.8L0.8,0.55H-0.8ZM0,-0.4L0.45,0.35H-0.45ZM-0.6,0.3H0.6",
      "M-2.5,0H2.5M0,0.8L0.8,-0.55H-0.8ZM0,0.4L0.45,-0.35H-0.45ZM-0.6,-0.3H0.6",
      "M-2.5,0H2.5M0,-0.8L0.8,0L0,0.8L-0.8,0ZM0,-0.5L0.5,0L0,0.5L-0.5,0ZM0,-0.2L0.2,0L0,0.2L-0.2,0Z"]},
      "legend":{"title":null,"orient":"none","legendX":220,"legendY":-3,"symbolSize":100,"symbolStrokeWidth":1.2,"symbolOffset":7.5,"labelOffset":9,"labelFontSize":14,"strokeColor":"#777","fillColor":"white","padding":3,"rowPadding":1.3,"symbolOpacity":1}}
   }}
 ]
},
{
 "width":306,"height":246,
 "title":{"text":"D","dx":-50,"dy":21},
 "data":{"name":"grp"},
 "encoding":{
  "x":{"field":"g","type":"ordinal","scale":{"type":"point","padding":0.5},"axis":{"title":"Different groups","labelAngle":0,"titlePadding":12,"tickSize":5,"labelPadding":4}}
 },
 "layer":[
  {"mark":{"type":"area","fill":"#9e9e9e","stroke":"#707070","strokeWidth":0.6,"opacity":1},
   "encoding":{
    "y":{"field":"lo","type":"quantitative","scale":{"domain":[1,1.04],"nice":false,"zero":false},
     "axis":{"title":"Density (g/ml)","values":[1,1.005,1.01,1.015,1.02,1.025,1.03,1.035,1.04],"labelOverlap":false,"labelFlush":false,"titlePadding":3,
      "labelExpr":"abs(datum.value*100-round(datum.value*100))<0.001 ? format(datum.value,'~g') : ''",
      "tickSize":{"condition":{"test":"abs(datum.value*100-round(datum.value*100))<0.001","value":5},"value":3}}},
    "y2":{"field":"hi"}}},
  {"mark":{"type":"point","shape":"square","filled":true,"size":50,"color":"#000","opacity":1},"encoding":{"y":{"field":"m","type":"quantitative"}}},
  {"mark":{"type":"text","dy":-11,"fontSize":14,"font":"Liberation Serif","color":"#111","baseline":"middle"},"encoding":{"y":{"field":"hi","type":"quantitative"},"text":{"field":"lab"}}}
 ]
}
]
}
